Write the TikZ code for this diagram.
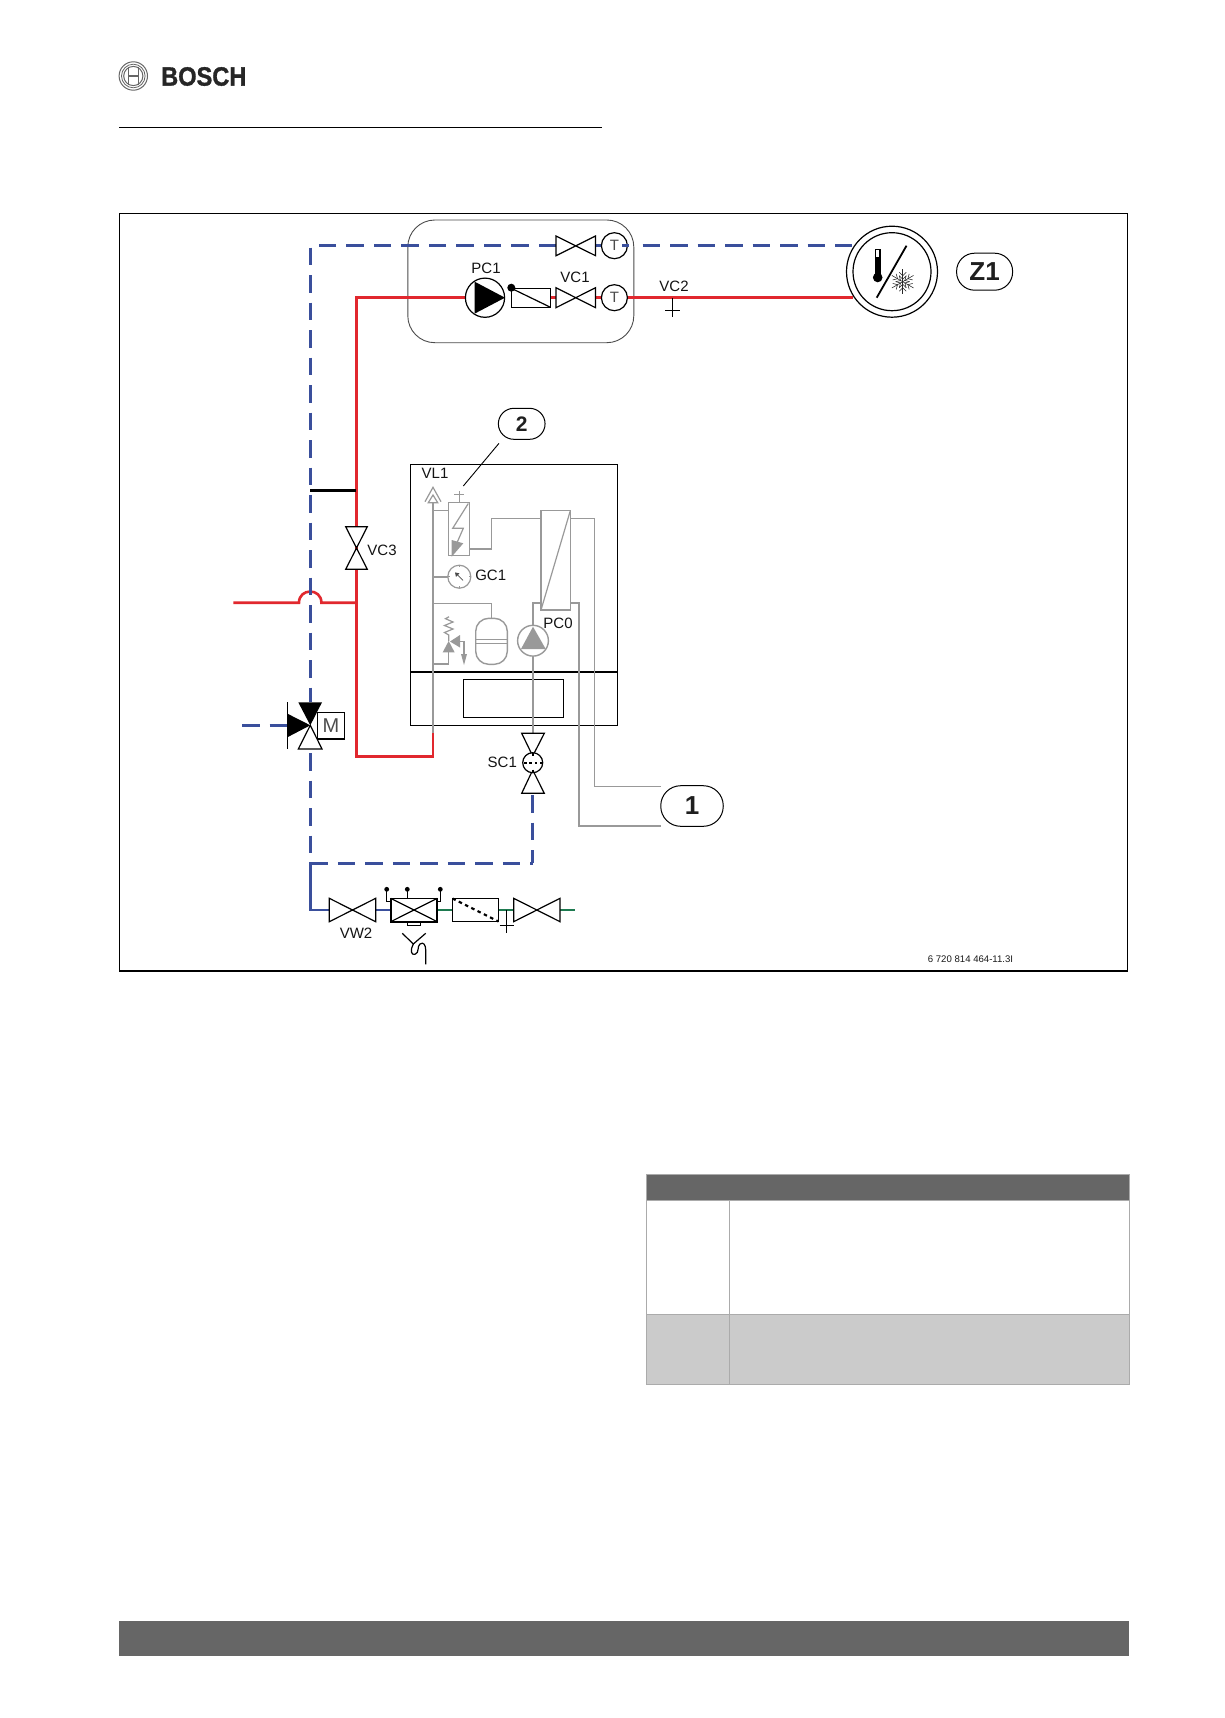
\documentclass[tikz,border=0pt]{standalone}
\usepackage{fontspec}
\setmainfont{Liberation Sans}
\newfontfamily\brandfont[FakeBold=1.2]{Liberation Sans Bold}
\definecolor{pipered}{HTML}{E1282E}
\definecolor{pipeblue}{HTML}{3A4F9C}
\definecolor{pipegreen}{HTML}{1E7A50}
\definecolor{unitgray}{HTML}{999999}
\definecolor{bargray}{HTML}{666666}
\definecolor{rowgray}{HTML}{CBCBCB}
\definecolor{rulegray}{HTML}{ABABAB}
\tikzset{
  lbl/.style={inner sep=0pt,font=\fontsize{15}{15}\selectfont,text=black!92},
  boldlbl/.style={inner sep=0pt,font=\fontsize{#1}{#1}\selectfont\bfseries,text=black!88},
  pill/.style={draw=black,line width=1pt,fill=white,inner sep=0pt,rectangle},
  redpipe/.style={draw=pipered,line width=2.6pt},
  bluepipe/.style={draw=pipeblue,line width=2.6pt},
  bluedash/.style={bluepipe,dash pattern=on 17.5pt off 10pt},
  greenpipe/.style={draw=pipegreen,line width=2.2pt},
  graypipe/.style={draw=unitgray,line width=2pt},
  grayline/.style={draw=unitgray,line width=1.2pt},
  blk/.style={draw=black,line width=1.2pt},
  valve/.style={draw=black,line width=1.2pt,fill=white,line join=miter},
  tsensor/.style={circle,draw=black,line width=1.2pt,fill=white,minimum size=26pt,inner sep=0pt,font=\fontsize{15}{15}\selectfont,text=black!70},
}
\newcommand{\hvalve}[4]{\path[valve] (#1,#3) -- (#2,#4) -- (#2,#3) -- (#1,#4) -- cycle;}
\newcommand{\vvalve}[4]{\path[valve] (#1,#3) -- (#2,#3) -- (#1,#4) -- (#2,#4) -- cycle;}
\begin{document}
\begin{tikzpicture}[x=1pt,y=-1pt]
\useasboundingbox[fill=white] (0,0) rectangle (1224,1718);
% header
\draw[draw=black!60,line width=1pt] (133.3,76) circle[radius=14.2];
\draw[draw=black!60,line width=.8pt] (133.3,76) circle[radius=11.8];
\draw[draw=black!60,line width=1pt] (133.3,76) circle[radius=9.6];
\draw[draw=black!60,line width=1.2pt] (128.2,67) -- (128.2,85) (138.4,67) -- (138.4,85) (128.2,76) -- (138.4,76);
\node[anchor=west,inner sep=0pt,font=\fontsize{26.5}{26.5}\brandfont,text=black!85] (brand) at (161,76.5) {\scalebox{0.89}[1]{BOSCH}};
\coordinate (hrA) at (119,127.7); \coordinate (hrB) at (601.5,127.7);
\draw[draw=black,line width=1pt] (hrA) -- (hrB);
% frame
\draw[draw=black,line width=1.2pt] (119.4,213.7) rectangle (1127.4,971);
% group box
\draw[draw=black!70,line width=.9pt,rounded corners=27pt] (407.8,220) rectangle (633.8,342.7);

% named junctions
\coordinate (bc) at (310.3,245.7);
\coordinate (rc) at (356.4,297.7);
\coordinate (rb) at (356.4,756.7);
\coordinate (rr) at (432.8,756.7);
\coordinate (rt) at (432.8,733);
\coordinate (ctop) at (556,245.7);
\coordinate (jb) at (310.3,490.3);
\coordinate (jr) at (356.4,490.3);

% Z1
\draw[draw=black,line width=1.2pt] (892,271.7) circle[radius=45.5];
\draw[draw=black,line width=1.2pt] (892,271.7) circle[radius=39];
\draw[draw=black,line width=1.8pt] (906.5,245.7) -- (876.7,297.7);
\fill[black] (874.7,249) rectangle (880.7,276);
\fill[white] (876.2,250.2) rectangle (879.2,257);
\fill[black] (877.7,277.5) circle[radius=4.8];
\begin{scope}[shift={(902.7,281.7)},draw=black!85,line width=.55pt]
  \foreach \a in {0,60,120}{
    \begin{scope}[rotate=\a]
      \draw (0,-12.5) -- (0,12.5);
      \foreach \s in {-1,1}{
        \draw (-3.5,\s*9.5) -- (0,\s*6) -- (3.5,\s*9.5);
        \draw (-3.5,\s*6) -- (0,\s*2.5) -- (3.5,\s*6);
      }
    \end{scope}}
\end{scope}
\node[pill,minimum width=56pt,minimum height=37pt,rounded corners=18pt] (z1pill) at (984.6,271.7) {};
\node[boldlbl=26] (z1) at (984.6,272) {Z1};

% red circuit
\draw[redpipe] (rr |- rt) -- (rr) -- (rb) -- (rc) -- (470,297.7);
\draw[redpipe] (545,297.7) -- (560,297.7);
\draw[redpipe] (590,297.7) -- (853,297.7);
\draw[redpipe] (233.3,602.7) -- (299,602.7) .. controls (299,587.8) and (321.4,587.8) .. (321.4,602.7) -- (356.4,602.7);

% blue circuit
\draw[bluedash] (ctop) -- (bc) -- (310.3,702);
\draw[bluedash] (642.7,245.7) -- (852,245.7);
\draw[bluepipe] (595,245.7) -- (602,245.7);
\draw[bluedash] (242,725.3) -- (288,725.3);
\draw[bluedash] (310.3,753) -- (310.3,858);
\coordinate (sb) at (532.7,795);
\coordinate (sc) at (532.7,863.3);
\coordinate (bw) at (310.3,863.3);
\coordinate (bv) at (310.3,910);
\draw[bluedash] (sb) -- (sc);
\draw[bluedash] (bw) -- (sc);
\draw[bluepipe,line cap=butt] (310.3,862.2) -- (bv) -- (330,910);
\draw[bluepipe] (375,910) -- (391,910);
\draw[greenpipe] (437,910) -- (453,910);
\draw[greenpipe] (498,910) -- (514,910);
\draw[greenpipe] (560,910) -- (575,910);

\draw[draw=black,line width=2.6pt] (jb) -- (jr);

% Sensors and valves upper
\hvalve{556}{595.5}{236}{255.7}
\hvalve{556}{595.5}{287.7}{307.7}
\node[tsensor] (t1) at (614.4,245.7) {T};
\node[tsensor] (t2) at (614.4,297.7) {T};
\draw[bluepipe] (622,245.7) -- (629,245.7);
% PC1 pump
\draw[blk,fill=white] (485,297.7) circle[radius=19.6];
\fill[black] (474.7,281.7) -- (505,297.7) -- (474.7,313.6) -- cycle;
\draw[blk,fill=white] (511.3,288.3) rectangle (550.5,307.3);
\draw[blk] (511.3,288.3) -- (550.5,307.3);
\fill[black] (511.3,287.7) circle[radius=4];
\node[lbl] (lPC1) at (486,268) {PC1};
\node[lbl] (lVC1) at (575,277) {VC1};
\node[lbl] (lVC2) at (674,286) {VC2};
\draw[blk] (672.5,297.7) -- (672.5,316.7) (665,310.7) -- (680,310.7);

% VC3
\vvalve{345.7}{367.3}{526.7}{569.3}
\node[lbl] (lVC3) at (382,550.5) {VC3};

% 3-way valve
\path[blk,fill=white] (298.3,749) -- (322,749) -- (310.3,725.3) -- cycle;
\fill[black] (298.3,702.3) -- (322,702.3) -- (310.3,725.3) -- cycle;
\fill[black] (287.3,713.6) -- (287.3,737.3) -- (310.3,725.3) -- cycle;
\draw[blk] (287.3,702) -- (287.3,749.3);
\draw[blk,fill=white] (317.3,712.3) rectangle (344.3,739);
\draw[draw=black,line width=1.6pt] (317.3,739) -- (344.3,739);
\node[inner sep=0pt,font=\fontsize{20}{20}\selectfont,text=black!70] (mm) at (331,725.5) {M};

% boiler
\draw[draw=black,line width=1.2pt] (410.3,464.3) rectangle (617.3,725.3);
\draw[draw=black,line width=2pt] (410.3,671.7) -- (617.3,671.7);
\draw[draw=black,line width=1.2pt] (463.3,679.3) rectangle (563.3,717.8);
\node[lbl] (lVL1) at (435,473.3) {VL1};

% unit internals
\draw[graypipe] (432.8,502) -- (rt);
\draw[grayline] (425,501.7) -- (433,487.3) -- (441,501.7);
\draw[grayline] (428.3,502.7) -- (433,495) -- (437.7,502.7) -- cycle;
\draw[grayline] (432.8,510.3) -- (448.3,510.3);
\draw[grayline,line width=1.4pt] (448.3,502.7) rectangle (469.7,555.7);
\draw[grayline] (459.3,502.7) -- (459.3,490.7) (454.3,494.3) -- (464.3,494.3);
\draw[grayline] (468.3,503.5) -- (452.7,528.3) -- (463.3,528.3) -- (456,545);
\fill[unitgray] (451.7,540) -- (463.3,543.3) -- (451.7,556.7) -- cycle;
\draw[grayline] (469.7,549) -- (491.3,549) -- (491.3,518.7) -- (541,518.7);
\draw[grayline,line width=1.5pt] (541,510.7) rectangle (570.3,610);
\draw[grayline] (570.3,510.7) -- (541,610);
\draw[grayline,line width=1.3pt] (570.3,518.7) -- (594.3,518.7) -- (594.3,786.7) -- (660.8,786.7);
\draw[graypipe,line width=1.7pt] (570.3,602.7) -- (579,602.7) -- (579,826.3) -- (660.8,826.3);
\draw[graypipe] (541,602.7) -- (533,602.7) -- (533,733.3);
% PC0
\draw[draw=unitgray,line width=1.4pt,fill=white] (533,640.7) circle[radius=15.4];
\fill[unitgray] (521,649) -- (545.7,649) -- (533,626.7) -- cycle;
\node[lbl] (lPC0) at (558,623.3) {PC0};
% GC1
\draw[graypipe] (432.8,576.7) -- (448,576.7);
\draw[draw=unitgray,line width=1.2pt,fill=white] (459.3,576.7) circle[radius=11.5];
\draw[draw=black!70,line width=.7pt] (463,580.4) -- (457,574.4);
\fill[black!70] (455,572.4) -- (459.5,573.4) -- (456,576.9) -- cycle;
\foreach \a in {0,90,180,270}{\draw[draw=unitgray,line width=.6pt] (459.3,576.7) ++(\a:11.5) -- ++(\a+180:2);}
\node[lbl] (lGC1) at (490.7,575.5) {GC1};
% expansion vessel
\draw[grayline] (432.8,603.3) -- (491.3,603.3) -- (491.3,618.3);
\draw[draw=unitgray,line width=1.4pt,rounded corners=13pt] (475.7,618.3) rectangle (507.3,664.3);
\draw[grayline] (475.7,639.7) -- (507.3,639.7) (475.7,643.7) -- (507.3,643.7);
% safety valve
\fill[unitgray] (442.7,652.3) -- (454.6,652.3) -- (448.7,641) -- cycle;
\fill[unitgray] (450,641.5) -- (460,635) -- (460,647.5) -- cycle;
\draw[grayline] (448.7,641) -- (448.7,635) -- (444.5,632.5) -- (453,629) -- (444.5,625.5) -- (453,622) -- (445.5,618.7) -- (449,616.7);
\draw[grayline] (432.8,664) -- (448.7,664) -- (448.7,652.3);
\draw[grayline] (460,641.5) -- (464,641.5) -- (464,654);
\fill[unitgray] (461,654) -- (467,654) -- (464,665) -- cycle;

% callout 2
\node[pill,minimum width=46.7pt,minimum height=31pt,rounded corners=15.5pt] (p2) at (521.7,423.8) {};
\node[boldlbl=21] (n2) at (521.7,424) {2};
\coordinate (l2a) at (499,443.3); \coordinate (l2b) at (463.3,486);
\draw[draw=black,line width=.9pt] (l2a) -- (l2b);
% callout 1
\node[pill,minimum width=62.5pt,minimum height=40.6pt,rounded corners=20pt] (p1) at (692,806) {};
\node[boldlbl=26] (n1) at (692,806) {1};

% SC1
\path[valve] (521.7,733.3) -- (544.3,733.3) -- (532.7,756) -- cycle;
\path[valve] (521.7,793.3) -- (544.3,793.3) -- (532.7,770) -- cycle;
\draw[blk,fill=white] (532.7,762.7) circle[radius=10];
\draw[draw=black,line width=1.6pt,dash pattern=on 2.6pt off 2.8pt] (524,762.7) -- (542,762.7);
\draw[draw=black,line width=1.6pt] (532.7,753) -- (532.7,756) (532.7,769.5) -- (532.7,772.5);
\node[lbl] (lSC1) at (502.3,762.7) {SC1};

% water line
\hvalve{329.3}{375.7}{898.3}{921.7}
\draw[blk,fill=white] (407.3,921.7) rectangle (420.3,925.3);
\draw[blk,fill=white] (390.7,898.3) rectangle (437.3,921.7);
\draw[blk] (390.7,898.3) -- (437.3,921.7) (390.7,921.7) -- (437.3,898.3);
\draw[draw=black,line width=2pt] (390.7,898.3) -- (390.7,921.7) -- (437.3,921.7) -- (437.3,898.3);
\draw[blk] (391,901.7) -- (386.7,901.7) -- (386.7,889.3);
\draw[blk] (407.3,898.3) -- (407.3,889.3);
\draw[blk] (437.3,901.7) -- (440.3,901.7) -- (440.3,889.3);
\foreach \x in {386.7,407.3,440.3}{\fill[black] (\x,889.3) circle[radius=2.4];}
\draw[blk,fill=white] (452.3,898.3) rectangle (498.7,921.7);
\draw[draw=black,line width=2.2pt,dash pattern=on 3.5pt off 3.5pt] (452.5,898.5) -- (498.5,921.5);
\draw[blk] (506.7,910) -- (506.7,932.7) (499.7,925.7) -- (514,925.7);
\hvalve{513.7}{560}{898.3}{921.7}
\node[lbl] (lVW2) at (356,933.3) {VW2};
% drain
\draw[blk] (402.3,933.3) -- (413.3,944) -- (425.7,933.3);
\draw[blk] (413.3,944) .. controls (410,950) and (411,955.5) .. (415,954.3) .. controls (419.5,953) and (417,946) .. (420,944) .. controls (423.5,941.5) and (425.7,945) .. (425.7,950) -- (425.7,964.3);

\node[inner sep=0pt,font=\fontsize{9.6}{9.6}\selectfont,text=black!90] (code) at (970.5,959.3) {6 720 814 464-11.3I};

% table
\fill[bargray] (646.7,1174.3) rectangle (1129.3,1200.3);
\fill[rowgray] (646.7,1314.3) rectangle (1129.3,1384.3);
\draw[draw=rulegray,line width=.9pt] (646.7,1174.3) rectangle (1129.3,1384.3);
\draw[draw=rulegray,line width=.9pt] (646.7,1200.3) -- (1129.3,1200.3) (646.7,1314.3) -- (1129.3,1314.3) (729.3,1200.3) -- (729.3,1384.3);

% footer
\fill[bargray] (119.4,1621) rectangle (1128.7,1655.7);
\end{tikzpicture}
\end{document}
